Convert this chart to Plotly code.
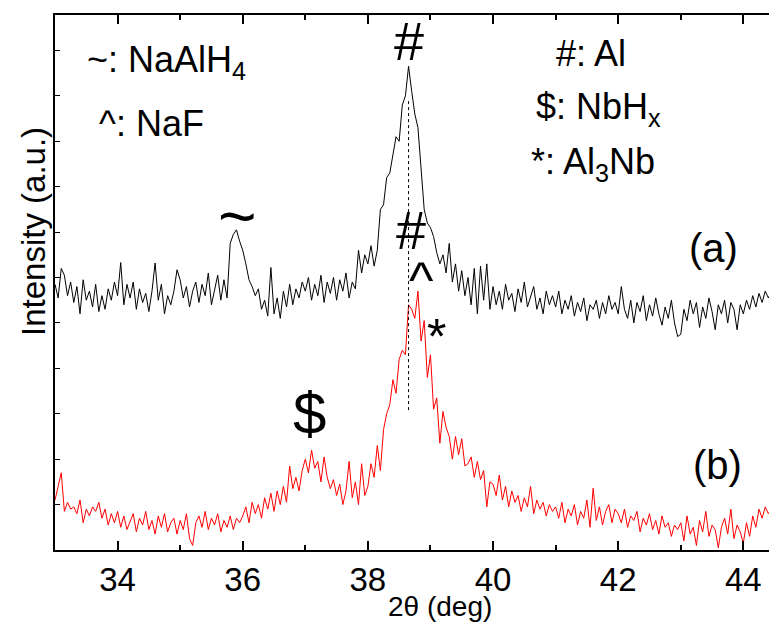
import plotly.graph_objects as go

# 2-theta grid (deg), step 0.05
two_theta = [round(33.0 + 0.05 * i, 2) for i in range(231)]

# pattern (a): black, a.u.
intensity_a = (
    [5.85, 5.55, 6.2, 6.05, 5.6, 5.9, 5.45, 5.8, 5.2, 5.95, 5.5, 5.7, 5.35, 5.85, 5.25, 5.6, 5.3, 5.75, 5.5, 5.9]
    + [5.6, 6.33, 5.4, 5.85, 5.55, 5.9, 5.3, 5.75, 5.45, 5.65, 5.25, 5.7, 6.32, 5.5, 5.85, 5.2, 5.6, 5.4, 5.7, 6.17]
    + [5.95, 5.55, 5.8, 5.35, 5.7, 5.9, 5.45, 5.85, 5.6, 6.1, 5.4, 5.75, 6.05, 5.5, 5.95, 5.55, 6.75, 6.95, 7.05, 6.8]
    + [6.6, 6.3, 5.95, 5.8, 5.6, 5.75, 5.3, 5.5, 5.15, 6.22, 5.2, 5.55, 5.1, 5.7, 5.35, 5.85, 5.4, 5.75, 5.55, 5.9]
    + [5.7, 6.0, 5.5, 5.85, 5.6, 6.05, 5.45, 5.9, 5.65, 6.0, 5.5, 5.95, 5.7, 6.1, 5.55, 5.9, 5.75, 6.6, 6.1, 6.5]
    + [6.3, 6.7, 6.25, 6.6, 7.5, 7.6, 8.2, 8.3, 8.75, 9.1, 9.0, 9.8, 10.0, 10.65, 10.1, 9.6, 9.3, 8.3, 7.5, 7.2]
    + [7.1, 6.9, 6.55, 6.3, 6.5, 6.1, 6.75, 5.9, 6.3, 5.7, 6.15, 5.6, 6.0, 5.4, 6.2, 5.2, 6.25, 5.5, 6.3, 5.3]
    + [5.8, 5.4, 5.7, 5.3, 5.85, 5.5, 5.65, 5.25, 5.75, 5.45, 5.9, 5.35, 5.6, 5.8, 5.3, 5.55, 5.2, 5.7, 5.4, 5.6]
    + [5.35, 5.7, 5.2, 5.5, 5.3, 5.6, 5.15, 5.45, 5.25, 5.55, 5.05, 5.4, 5.3, 5.5, 5.1, 5.45, 5.2, 5.6, 5.3, 5.45]
    + [5.2, 5.8, 5.3, 5.1, 5.5, 5.0, 5.45, 5.25, 5.6, 5.05, 5.4, 5.15, 5.55, 5.2, 4.95, 5.35, 5.1, 5.5, 5.0, 4.7]
    + [4.75, 5.3, 5.05, 5.5, 5.2, 5.45, 4.9, 5.35, 5.1, 5.55, 5.25, 4.85, 5.4, 5.2, 5.5, 5.0, 5.45, 5.3, 4.85, 5.4]
    + [5.2, 5.5, 5.3, 5.6, 5.35, 5.65, 5.45, 5.7, 5.55, 5.7, 5.6]
)

# pattern (b): red, a.u.
intensity_b = (
    [1.1, 1.4, 1.7, 0.85, 1.05, 0.9, 0.95, 0.8, 1.1, 0.6, 0.9, 0.75, 0.95, 0.85, 1.05, 0.7, 0.9, 0.55, 0.8, 0.6]
    + [0.85, 0.5, 0.75, 0.45, 0.65, 0.8, 0.4, 0.7, 0.55, 0.85, 0.45, 0.65, 0.35, 0.75, 0.5, 0.8, 0.4, 0.6, 0.7, 0.35]
    + [0.65, 0.45, 0.8, 0.25, 0.1, 0.6, 0.75, 0.5, 0.85, 0.45, 0.7, 0.55, 0.8, 0.4, 0.65, 0.5, 0.75, 0.45, 0.7, 0.6]
    + [0.75, 0.95, 0.6, 1.05, 0.8, 1.0, 0.7, 1.15, 0.9, 1.25, 0.85, 1.3, 1.0, 1.4, 1.05, 1.85, 1.35, 1.6, 1.3, 1.75]
    + [2.0, 1.7, 2.2, 1.8, 1.95, 1.5, 2.05, 1.6, 1.35, 1.55, 1.2, 1.45, 1.0, 1.3, 1.95, 1.15, 1.5, 1.0, 1.9, 1.2]
    + [1.4, 1.9, 1.6, 2.3, 1.75, 2.65, 3.0, 3.2, 3.75, 3.45, 4.2, 4.4, 4.3, 5.4, 5.3, 5.1, 5.7, 4.6, 5.05, 3.8]
    + [4.3, 3.1, 3.35, 2.35, 3.05, 2.7, 2.5, 2.0, 2.5, 2.1, 2.45, 1.85, 1.9, 2.05, 1.6, 1.95, 1.55, 1.75, 0.95, 1.5]
    + [1.45, 1.2, 1.65, 1.1, 1.4, 0.95, 1.3, 1.05, 1.2, 0.85, 1.15, 0.95, 1.4, 0.8, 1.1, 0.9, 1.05, 0.75, 1.0, 0.85]
    + [0.95, 0.7, 1.05, 0.6, 0.9, 0.75, 1.0, 0.55, 0.85, 0.7, 1.1, 0.5, 1.36, 0.65, 0.95, 0.55, 0.85, 1.0, 0.6, 0.9]
    + [0.8, 0.6, 0.9, 0.5, 0.75, 0.65, 0.85, 0.4, 0.7, 0.55, 0.8, 0.45, 0.65, 0.35, 0.75, 0.5, 0.6, 0.3, 0.55, 0.45]
    + [0.6, 0.2, 0.75, 0.35, 0.5, 0.1, 0.65, 0.4, 0.85, 0.3, 0.55, 0.45, 0.05, 0.5, 0.7, 0.35, 0.9, 0.25, 0.55, 0.4]
    + [0.15, 0.6, 0.3, 0.75, 0.5, 0.9, 0.7, 0.95, 0.8, 0.9, 0.85]
)

# Al reference line position
al_line_x = [38.65, 38.65]
al_line_y = [3.08, 9.9]

x_ticks = [34, 36, 38, 40, 42, 44]
y_ticks = list(range(1, 12))

# peak markers: text, x (deg), y (a.u.), size
peak_text = ["#", "#", "~", "^", "*", "$"]
peak_x = [38.66, 38.69, 35.91, 38.85, 39.09, 37.06]
peak_y = [11.2, 7.05, 7.35, 5.95, 4.7, 3.0]
peak_size = [54, 54, 66, 52, 50, 60]

# legend texts
legend_text = ["~: NaAlH<sub>4</sub>", "^: NaF", "#: Al", "$: NbH<sub>x</sub>", "*: Al<sub>3</sub>Nb", "(a)", "(b)"]
legend_x = [34.78, 34.55, 41.57, 41.68, 41.6, 43.53, 43.58]
legend_y = [10.75, 9.4, 10.93, 9.7, 8.5, 6.65, 1.88]
legend_size = [36, 36, 36, 36, 36, 40, 40]

FONT = "Liberation Sans, Arial, sans-serif"

fig = go.Figure()
fig.add_trace(go.Scatter(x=two_theta, y=intensity_a, mode="lines",
                         line=dict(color="black", width=1), showlegend=False))
fig.add_trace(go.Scatter(x=two_theta, y=intensity_b, mode="lines",
                         line=dict(color="#ff0000", width=1), showlegend=False))
fig.add_trace(go.Scatter(x=al_line_x, y=al_line_y, mode="lines",
                         line=dict(color="black", width=1, dash="dot"), showlegend=False))

for t, x, y, s in zip(peak_text, peak_x, peak_y, peak_size):
    fig.add_annotation(x=x, y=y, xref="x", yref="y", text=t, showarrow=False,
                       font=dict(family=FONT, size=s, color="black"),
                       xanchor="center", yanchor="middle")
for t, x, y, s in zip(legend_text, legend_x, legend_y, legend_size):
    fig.add_annotation(x=x, y=y, xref="x", yref="y", text=t, showarrow=False,
                       font=dict(family=FONT, size=s, color="black"),
                       xanchor="center", yanchor="middle")

fig.add_annotation(x=-0.031, y=0.596, xref="paper", yref="paper",
                   text="Intensity (a.u.)", textangle=-90, showarrow=False,
                   font=dict(family=FONT, size=33, color="black"),
                   xanchor="center", yanchor="middle")
fig.add_annotation(x=0.539, y=-0.105, xref="paper", yref="paper",
                   text="2θ (deg)", showarrow=False,
                   font=dict(family=FONT, size=28, color="black"),
                   xanchor="center", yanchor="middle")

fig.update_layout(
    width=769, height=626,
    margin=dict(l=55, r=0, t=15, b=76),
    paper_bgcolor="white", plot_bgcolor="white",
    font=dict(family=FONT, color="black"),
)
fig.update_xaxes(range=[33, 44.41], tickvals=x_ticks, ticktext=[str(v) for v in x_ticks],
                 ticks="inside", ticklen=9, tickwidth=1.5, tickcolor="black",
                 showline=True, linewidth=1.5, linecolor="black", mirror="ticks",
                 showgrid=False, zeroline=False,
                 tickfont=dict(family=FONT, size=33),
                 minor=dict(dtick=1, tick0=33, ticks="inside", ticklen=5, tickwidth=1.5, tickcolor="black"))
fig.update_yaxes(range=[0, 11.78], tickvals=y_ticks, showticklabels=False,
                 ticks="inside", ticklen=5, tickwidth=1, tickcolor="black",
                 showline=True, linewidth=1.5, linecolor="black", mirror=False,
                 showgrid=False, zeroline=False)

fig.write_html("out.html")
